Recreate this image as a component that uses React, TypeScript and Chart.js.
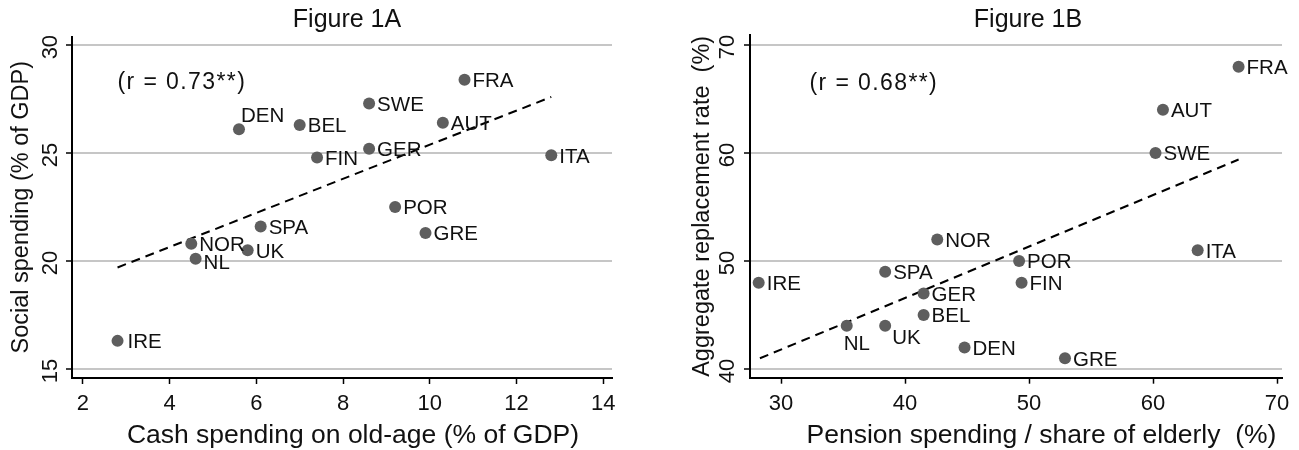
import React, { useEffect, useRef } from 'react';
import { Chart, registerables } from 'chart.js';

Chart.register(...registerables);

// ---------- Figure 1A data ----------
const countriesA = ['FRA', 'SWE', 'DEN', 'BEL', 'AUT', 'GER', 'FIN', 'ITA', 'POR', 'GRE', 'SPA', 'NOR', 'UK', 'NL', 'IRE'];
const cashOldAge = [10.8, 8.6, 5.6, 7.0, 10.3, 8.6, 7.4, 12.8, 9.2, 9.9, 6.1, 4.5, 5.8, 4.6, 2.8];
const socialSpending = [28.4, 27.3, 26.1, 26.3, 26.4, 25.2, 24.8, 24.9, 22.5, 21.3, 21.6, 20.8, 20.5, 20.1, 16.3];
const fitAX = [2.8, 12.8];
const fitAY = [19.7, 27.6];
const xTicksA = [2, 4, 6, 8, 10, 12, 14];
const yTicksA = [15, 20, 25, 30];

// ---------- Figure 1B data ----------
const countriesB = ['FRA', 'AUT', 'SWE', 'ITA', 'NOR', 'POR', 'FIN', 'IRE', 'SPA', 'GER', 'BEL', 'NL', 'UK', 'DEN', 'GRE'];
const pensionPerElderly = [66.9, 60.8, 60.2, 63.6, 42.6, 49.2, 49.4, 28.2, 38.4, 41.5, 41.5, 35.3, 38.4, 44.8, 52.9];
const replacementRate = [68, 64, 60, 51, 52, 50, 48, 48, 49, 47, 45, 44, 44, 42, 41];
const fitBX = [28.3, 66.9];
const fitBY = [41.0, 59.4];
const xTicksB = [30, 40, 50, 60, 70];
const yTicksB = [40, 50, 60, 70];

const FONT = "'Liberation Sans', Arial, Helvetica, sans-serif";
const INK = '#111111';

type Panel = {
  countries: string[];
  xs: number[];
  ys: number[];
  fitX: number[];
  fitY: number[];
  xTicks: number[];
  yTicks: number[];
  xMin: number; xMax: number; yMin: number; yMax: number;
  title: string; xTitle: string; yTitle: string;
  rText: string; rX: number; rY: number;
  width: number; height: number;
  axisLeft: number; plotRight: number; plotTop: number; plotBottom: number;
  titleX: number; xTitleX: number; yTitleX: number; yTickLabelX: number;
  labelOffsets: Record<string, [number, number]>;
};

const panelA: Panel = {
  countries: countriesA, xs: cashOldAge, ys: socialSpending, fitX: fitAX, fitY: fitAY,
  xTicks: xTicksA, yTicks: yTicksA,
  xMin: 1.75, xMax: 14.2, yMin: 14.58, yMax: 30.4,
  title: 'Figure 1A',
  xTitle: 'Cash spending on old-age (% of GDP)',
  yTitle: 'Social spending (% of GDP)',
  rText: '(r = 0.73**)', rX: 2.8, rY: 28.26,
  width: 650, height: 450,
  axisLeft: 72, plotRight: 612, plotTop: 36.5, plotBottom: 378,
  titleX: 347, xTitleX: 353, yTitleX: 22, yTickLabelX: 51,
  labelOffsets: { DEN: [2, -15], NL: [8, 3], IRE: [10, 0] },
};

const panelB: Panel = {
  countries: countriesB, xs: pensionPerElderly, ys: replacementRate, fitX: fitBX, fitY: fitBY,
  xTicks: xTicksB, yTicks: yTicksB,
  xMin: 27.5, xMax: 70.4, yMin: 39.2, yMax: 70.93,
  title: 'Figure 1B',
  xTitle: 'Pension spending / share of elderly  (%)',
  yTitle: 'Aggregate replacement rate  (%)',
  rText: '(r = 0.68**)', rX: 32.3, rY: 66.45,
  width: 649, height: 450,
  axisLeft: 100, plotRight: 632, plotTop: 35, plotBottom: 377.7,
  titleX: 378, xTitleX: 391.5, yTitleX: 53, yTickLabelX: 77.5,
  labelOffsets: { NL: [-3, 17], UK: [7, 11] },
};

function decorPlugin(p: Panel) {
  return {
    id: 'decor',
    afterDraw(chart: any) {
      const ctx: CanvasRenderingContext2D = chart.ctx;
      const xs = chart.scales.x;
      const ys = chart.scales.y;
      const area = chart.chartArea;
      ctx.save();
      ctx.fillStyle = INK;

      // rotated y tick labels
      ctx.font = `22px ${FONT}`;
      ctx.textAlign = 'center';
      ctx.textBaseline = 'middle';
      p.yTicks.forEach((v) => {
        const py = ys.getPixelForValue(v);
        ctx.save();
        ctx.translate(p.yTickLabelX, py + 2);
        ctx.rotate(-Math.PI / 2);
        ctx.fillText(String(v), 0, 0);
        ctx.restore();
      });

      // country labels
      const meta = chart.getDatasetMeta(0);
      const lblSize = 20.5;
      ctx.font = `${lblSize}px ${FONT}`;
      ctx.textAlign = 'left';
      ctx.textBaseline = 'alphabetic';
      meta.data.forEach((el: any, i: number) => {
        const name = p.countries[i];
        const off = p.labelOffsets[name] ?? [8, 0];
        ctx.fillText(name, el.x + off[0], el.y + off[1] + (0.716 * lblSize) / 2);
      });

      // correlation note
      ctx.font = `23px ${FONT}`;
      (ctx as any).letterSpacing = '1.4px';
      ctx.textBaseline = 'middle';
      ctx.fillText(p.rText, xs.getPixelForValue(p.rX), ys.getPixelForValue(p.rY));
      (ctx as any).letterSpacing = '0px';

      // title
      ctx.font = `25px ${FONT}`;
      ctx.textAlign = 'center';
      ctx.textBaseline = 'alphabetic';
      ctx.fillText(p.title, p.titleX, 26.5);

      // x axis title
      ctx.font = `26.5px ${FONT}`;
      ctx.fillText(p.xTitle, p.xTitleX, 443);

      // y axis title
      ctx.font = `23.5px ${FONT}`;
      ctx.textBaseline = 'middle';
      ctx.save();
      ctx.translate(p.yTitleX, (area.top + area.bottom) / 2);
      ctx.rotate(-Math.PI / 2);
      ctx.fillText(p.yTitle, 0, 0);
      ctx.restore();

      ctx.restore();
    },
  };
}

function buildConfig(p: Panel): any {
  return {
    type: 'scatter',
    data: {
      datasets: [
        {
          type: 'scatter',
          data: p.xs.map((x, i) => ({ x, y: p.ys[i] })),
          backgroundColor: '#5e5e5e',
          borderWidth: 0,
          pointRadius: 6,
          pointHoverRadius: 6,
        },
        {
          type: 'line',
          data: p.fitX.map((x, i) => ({ x, y: p.fitY[i] })),
          borderColor: '#000',
          borderWidth: 2,
          borderDash: [9, 6],
          pointRadius: 0,
          fill: false,
          showLine: true,
        },
      ],
    },
    options: {
      responsive: false,
      animation: false,
      events: [],
      layout: { padding: { left: 0, top: p.plotTop, right: p.width - p.plotRight, bottom: 0 } },
      plugins: {
        legend: { display: false },
        title: { display: false },
        tooltip: { enabled: false },
      },
      scales: {
        x: {
          type: 'linear',
          min: p.xMin,
          max: p.xMax,
          afterFit: (s: any) => { s.height = p.height - p.plotBottom; },
          afterBuildTicks: (s: any) => { s.ticks = p.xTicks.map((v) => ({ value: v })); },
          grid: { drawOnChartArea: false, drawTicks: true, tickLength: 6, tickColor: '#000', tickWidth: 1.5 },
          border: { display: true, color: '#000', width: 2 },
          ticks: {
            font: { family: FONT, size: 22 },
            color: INK,
            padding: 7,
            maxRotation: 0,
            autoSkip: false,
            callback: (v: any) => String(v),
          },
        },
        y: {
          type: 'linear',
          min: p.yMin,
          max: p.yMax,
          afterFit: (s: any) => { s.width = p.axisLeft; },
          afterBuildTicks: (s: any) => { s.ticks = p.yTicks.map((v) => ({ value: v })); },
          grid: { color: '#c6c6c6', lineWidth: 2, drawTicks: true, tickLength: 6, tickColor: '#000', tickWidth: 1.5 },
          border: { display: true, color: '#000', width: 2 },
          ticks: { display: false },
        },
      },
    },
    plugins: [decorPlugin(p)],
  };
}

function ScatterPanel({ panel, left }: { panel: Panel; left: number }) {
  const ref = useRef<HTMLCanvasElement | null>(null);
  useEffect(() => {
    if (!ref.current) return;
    const chart = new Chart(ref.current, buildConfig(panel));
    return () => chart.destroy();
  }, [panel]);
  return (
    <canvas
      ref={ref}
      width={panel.width}
      height={panel.height}
      style={{ position: 'absolute', left, top: 0, width: panel.width, height: panel.height }}
    />
  );
}

export default function App() {
  useEffect(() => {
    document.body.style.margin = '0';
    document.body.style.background = '#fff';
  }, []);
  return (
    <div style={{ position: 'relative', width: 1299, height: 450, background: '#fff', overflow: 'hidden' }}>
      <ScatterPanel panel={panelA} left={0} />
      <ScatterPanel panel={panelB} left={650} />
    </div>
  );
}
